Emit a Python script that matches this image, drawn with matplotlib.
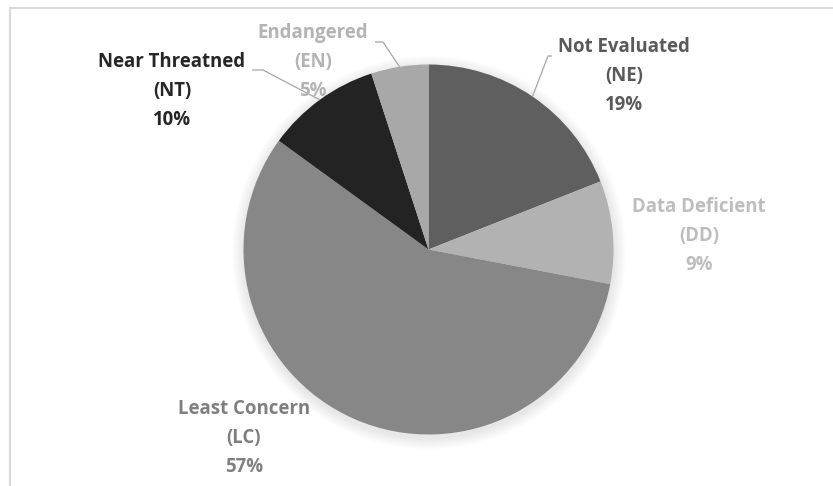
import numpy as np
import matplotlib
matplotlib.use("Agg")
import matplotlib.pyplot as plt
from matplotlib.patches import Circle

# IUCN Red List status breakdown
categories = ["Not Evaluated", "Data Deficient", "Least Concern", "Near Threatned", "Endangered"]
codes = ["NE", "DD", "LC", "NT", "EN"]
shares = [19, 9, 57, 10, 5]

slice_colors = ["#5f5f5f", "#b2b2b2", "#878787", "#232323", "#a8a8a8"]
label_colors = ["#5a5a5a", "#bdbdbd", "#7f7f7f", "#262626", "#b3b3b3"]

W, H = 833, 486
fig = plt.figure(figsize=(W / 100, H / 100), dpi=100)
ax = fig.add_axes([0, 0, 1, 1])
ax.set_xlim(0, W)
ax.set_ylim(0, H)
ax.axis("off")


def Y(y):
    """Pixel row (from top) to data y."""
    return H - y


cx, cy, r = 428.5, Y(249.5), 185

# soft drop shadow around the pie
for i in range(12):
    ax.add_patch(Circle((cx + 0.5, cy - 3), r + 12 - i, facecolor="black",
                        edgecolor="none", alpha=0.009, zorder=1))

wedges, _ = ax.pie(shares, colors=slice_colors, startangle=90, counterclock=False,
                   center=(cx, cy), radius=r, frame=False,
                   wedgeprops=dict(linewidth=0, zorder=2))
ax.set_xlim(0, W)
ax.set_ylim(0, H)
ax.set_aspect("equal")

# label block centres (pixels) and leader-line elbows
label_pos = [(624, 76), (699, 236), (244, 438), (172, 91), (313, 62)]
leaders = {0: (552, 56), 3: (252, 70), 4: (375, 42)}
elbow_dx = {0: -4, 3: 11, 4: 8}

font = ["Open Sans", "DejaVu Sans"]
for i, (cat, code, val) in enumerate(zip(categories, codes, shares)):
    lx, ly = label_pos[i]
    ax.text(lx, Y(ly), f"{cat}\n({code})\n{val}%", ha="center", va="center",
            fontsize=13.4, fontweight="bold", color=label_colors[i],
            family=font, linespacing=1.58, zorder=5)
    if i in leaders:
        w = wedges[i]
        mid = np.deg2rad((w.theta1 + w.theta2) / 2)
        ex, ey = cx + r * np.cos(mid), cy + r * np.sin(mid)
        sx, sy = leaders[i]
        ax.plot([sx, sx + elbow_dx[i], ex], [Y(sy), Y(sy), ey], color="#a6a6a6",
                lw=0.9, zorder=4, solid_capstyle="butt")

# chart frame (top and left edges)
ax.plot([10, W], [Y(8), Y(8)], color="#d9d9d9", lw=1.5, zorder=6)
ax.plot([10, 10], [Y(8), 0], color="#d9d9d9", lw=1.5, zorder=6)

fig.savefig("out.png", dpi=100, facecolor="white")
